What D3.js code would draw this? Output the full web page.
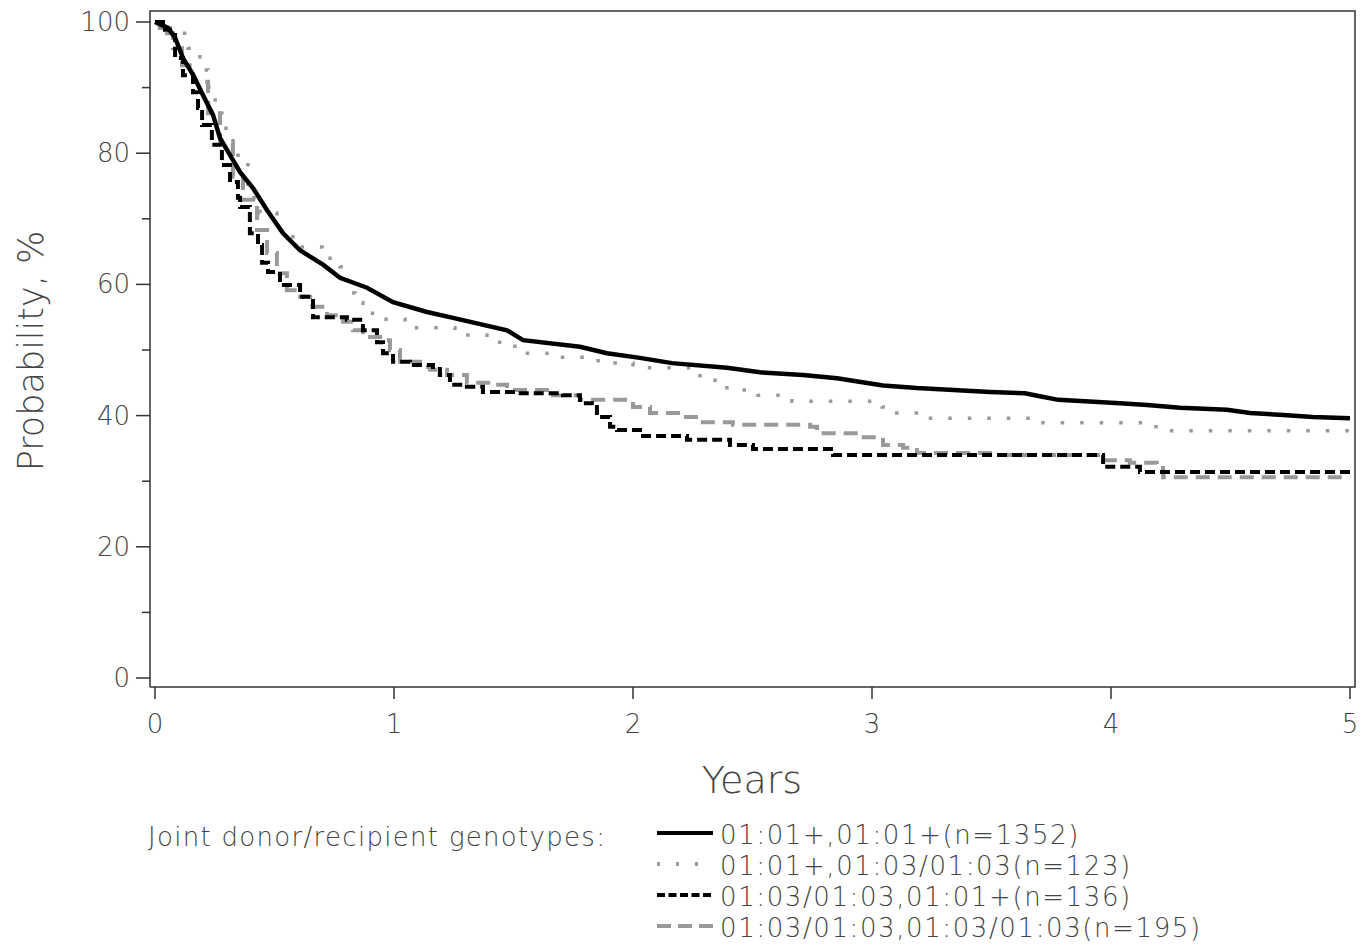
<!DOCTYPE html>
<html>
<head>
<meta charset="utf-8">
<script src="https://cdn.jsdelivr.net/npm/d3@7"></script>
<style>
  body { margin: 0; background: #fff; }
  text { font-family: "DejaVu Sans", sans-serif; font-weight: 200; fill: #444; }
</style>
</head>
<body>
<div id="chart"></div>
<script>
// survival curves, years / percent
const s1Years = [0, 0.054, 0.084, 0.117, 0.16, 0.2, 0.243, 0.272, 0.314, 0.356, 0.41, 0.469, 0.536, 0.607, 0.703, 0.774, 0.887, 0.996, 1.138, 1.247, 1.473, 1.54, 1.778, 1.891, 2.029, 2.163, 2.393, 2.531, 2.711, 2.854, 3.046, 3.188, 3.494, 3.64, 3.707, 3.78, 4.038, 4.151, 4.289, 4.485, 4.582, 4.72, 4.845, 5];
const s1Surv  = [100, 99.1, 97.6, 94.5, 91.9, 88.9, 85.8, 82.3, 79.7, 77.1, 74.7, 71.3, 67.8, 65.2, 63.0, 61.0, 59.5, 57.3, 55.8, 54.9, 53.0, 51.5, 50.5, 49.5, 48.8, 48.0, 47.3, 46.6, 46.2, 45.7, 44.6, 44.2, 43.6, 43.4, 42.9, 42.4, 41.9, 41.6, 41.2, 40.9, 40.4, 40.1, 39.8, 39.6];

const s2Years = [0, 0.033, 0.075, 0.138, 0.188, 0.222, 0.238, 0.264, 0.28, 0.326, 0.389, 0.439, 0.51, 0.577, 0.699, 0.774, 0.803, 0.837, 0.87, 0.929, 1.046, 1.255, 1.389, 1.506, 1.653, 1.854, 2.0, 2.28, 2.393, 2.523, 2.665, 3.042, 3.096, 3.23, 3.682, 4.155, 4.218, 5];
const s2Surv  = [100, 99.1, 98.3, 96.0, 92.7, 90.1, 88.1, 86.1, 83.8, 79.7, 73.2, 70.9, 68.3, 65.7, 64.0, 62.7, 58.7, 57.2, 55.6, 54.7, 53.4, 52.3, 51.2, 49.5, 48.9, 48.0, 47.3, 45.4, 43.9, 43.1, 42.2, 41.3, 40.4, 39.6, 38.9, 38.3, 37.7, 37.7];

const s3Years = [0, 0.042, 0.063, 0.084, 0.117, 0.159, 0.18, 0.197, 0.238, 0.28, 0.314, 0.347, 0.356, 0.397, 0.431, 0.448, 0.473, 0.523, 0.607, 0.661, 0.803, 0.87, 0.929, 0.954, 0.996, 1.067, 1.163, 1.192, 1.234, 1.305, 1.372, 1.515, 1.707, 1.778, 1.849, 1.904, 1.933, 2.042, 2.226, 2.406, 2.502, 2.837, 3.967, 4.121, 5];
const s3Surv  = [100, 98.8, 98.0, 94.5, 91.9, 89.3, 86.9, 84.3, 81.3, 78.2, 75.6, 73.2, 71.8, 67.8, 66.0, 63.3, 61.9, 59.9, 58.1, 55.0, 54.6, 53.0, 51.2, 49.5, 48.2, 47.7, 47.4, 46.2, 44.7, 44.4, 43.6, 43.4, 43.1, 41.9, 39.8, 38.3, 37.8, 36.9, 36.3, 35.5, 34.9, 34.0, 32.2, 31.4, 31.4];

const s4Years = [0, 0.02, 0.05, 0.075, 0.113, 0.159, 0.222, 0.272, 0.326, 0.368, 0.427, 0.469, 0.51, 0.552, 0.594, 0.649, 0.72, 0.787, 0.828, 0.87, 0.954, 0.983, 1.025, 1.109, 1.151, 1.222, 1.305, 1.414, 1.473, 1.665, 1.778, 2.0, 2.071, 2.209, 2.28, 2.418, 2.741, 2.77, 2.941, 3.046, 3.13, 3.188, 3.506, 3.967, 4.079, 4.192, 4.218, 5];
const s4Surv  = [100, 99.1, 98.3, 96.0, 93.4, 90.9, 86.1, 81.6, 76.4, 72.9, 68.3, 64.8, 61.7, 59.1, 58.1, 56.6, 55.3, 54.3, 53.0, 52.0, 51.5, 50.0, 48.2, 47.4, 47.0, 46.2, 45.0, 44.7, 43.9, 43.1, 42.4, 41.3, 40.4, 39.8, 39.0, 38.6, 38.3, 37.3, 36.7, 35.5, 35.1, 34.3, 34.0, 33.2, 32.8, 32.0, 30.6, 30.6];

const seriesNames = ["01:01+,01:01+(n=1352)", "01:01+,01:03/01:03(n=123)", "01:03/01:03,01:01+(n=136)", "01:03/01:03,01:03/01:03(n=195)"];
const xTicks = [0, 1, 2, 3, 4, 5];
const yTicks = [0, 20, 40, 60, 80, 100];
const yMinor = [10, 30, 50, 70, 90];

const width = 1372, height = 947;
const x = d3.scaleLinear().domain([0, 5]).range([155, 1350]);
const y = d3.scaleLinear().domain([0, 100]).range([678, 22]);

const svg = d3.select("#chart").append("svg")
    .attr("width", width)
    .attr("height", height);

// frame
const axisColor = "#333";
svg.append("path")
    .attr("d", "M150,687 V11 H1355 V687 H150")
    .attr("fill", "none")
    .attr("stroke", axisColor)
    .attr("stroke-width", 1.5);

// y ticks
svg.selectAll(".ytick").data(yTicks).enter().append("line")
    .attr("x1", 136).attr("x2", 150)
    .attr("y1", d => y(d)).attr("y2", d => y(d))
    .attr("stroke", axisColor).attr("stroke-width", 1.5);
svg.selectAll(".yminor").data(yMinor).enter().append("line")
    .attr("x1", 142).attr("x2", 150)
    .attr("y1", d => y(d)).attr("y2", d => y(d))
    .attr("stroke", axisColor).attr("stroke-width", 1.5);
svg.selectAll(".ylab").data(yTicks).enter().append("text")
    .attr("x", 130).attr("y", d => y(d) + 9)
    .attr("text-anchor", "end")
    .style("font-size", "26px")
    .text(d => d);

// x ticks
svg.selectAll(".xtick").data(xTicks).enter().append("line")
    .attr("x1", d => x(d)).attr("x2", d => x(d))
    .attr("y1", 687).attr("y2", 699)
    .attr("stroke", axisColor).attr("stroke-width", 1.5);
svg.selectAll(".xlab").data(xTicks).enter().append("text")
    .attr("x", d => x(d)).attr("y", 733)
    .attr("text-anchor", "middle")
    .style("font-size", "26px")
    .text(d => d);

svg.append("text")
    .attr("x", 752).attr("y", 793)
    .attr("text-anchor", "middle")
    .style("font-size", "38px")
    .text("Years");

svg.append("text")
    .attr("transform", "translate(43,351)rotate(-90)")
    .attr("text-anchor", "middle")
    .style("font-size", "35px")
    .text("Probability, %");

// curves
const styles = [
  {color: "#000", width: 4.5, dash: null, curve: d3.curveLinear},
  {color: "#999", width: 3.5, dash: "3.5,16", curve: d3.curveStepAfter},
  {color: "#000", width: 4, dash: "10,5", curve: d3.curveStepAfter},
  {color: "#999", width: 4, dash: "14,8", curve: d3.curveStepAfter}
];
const series = [
  d3.zip(s1Years, s1Surv),
  d3.zip(s2Years, s2Surv),
  d3.zip(s3Years, s3Surv),
  d3.zip(s4Years, s4Surv)
];

const drawOrder = [1, 3, 2, 0];
drawOrder.forEach(i => {
  const line = d3.line()
      .x(d => x(d[0]))
      .y(d => y(d[1]))
      .curve(styles[i].curve);
  svg.append("path")
      .datum(series[i])
      .attr("d", line)
      .attr("fill", "none")
      .attr("stroke", styles[i].color)
      .attr("stroke-width", styles[i].width)
      .attr("stroke-dasharray", styles[i].dash);
});

// legend
svg.append("text")
    .attr("x", 148).attr("y", 846)
    .style("font-size", "26px")
    .style("letter-spacing", "1.3px")
    .text("Joint donor/recipient genotypes:");

const legendDash = [null, "3,16", "8,3.5", "14,7"];
const rowY = [833, 864, 895, 926];
seriesNames.forEach((name, i) => {
  svg.append("line")
      .attr("x1", 657).attr("x2", 713)
      .attr("y1", rowY[i]).attr("y2", rowY[i])
      .attr("stroke", styles[i].color)
      .attr("stroke-width", 4)
      .attr("stroke-dasharray", legendDash[i]);
  svg.append("text")
      .attr("x", 720).attr("y", rowY[i] + 11)
      .style("font-size", "26px")
      .style("letter-spacing", "1.6px")
      .text(name);
});
</script>
</body>
</html>
